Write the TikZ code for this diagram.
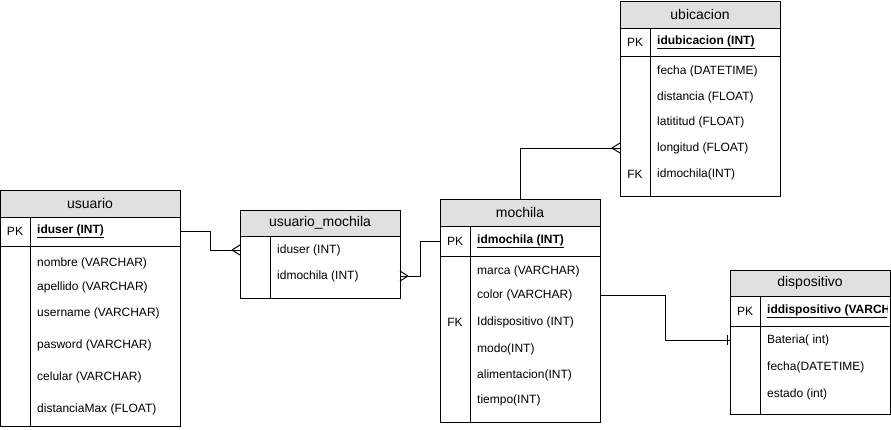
\documentclass[tikz,border=0pt]{standalone}
\usepackage{fontspec}
\setmainfont{Liberation Sans}
\definecolor{hdrgray}{RGB}{224,224,224}
\begin{document}
\begin{tikzpicture}[x=1pt,y=-1pt,
  tbl/.style={draw, line width=1pt, anchor=north west, inner sep=0pt, outer sep=0pt},
  hdr/.style={draw, line width=1pt, fill=hdrgray, anchor=north west, inner sep=0pt, outer sep=0pt, font=\fontsize{14}{16}\selectfont},
  row/.style={anchor=west, inner sep=0pt, font=\fontsize{12}{14}\selectfont},
  keycell/.style={anchor=center, inner sep=0pt, font=\fontsize{12}{14}\selectfont},
  sep/.style={line width=1pt},
  rel/.style={line width=1pt},
  pkrow/.style={row, font=\fontsize{12}{14}\selectfont\bfseries}
]
\useasboundingbox (0,0) rectangle (891,429);

% ---------- usuario ----------
\node[hdr, minimum width=180pt, minimum height=27pt] (usuarioH) at (0,190) {usuario};
\node[tbl, minimum width=180pt, minimum height=236pt] (usuario) at (0,190) {};
\draw[sep] (0,246) -- (180,246);
\draw[sep] (30,217) -- (30,426);
\node[keycell] (ukey) at (15,231) {PK};
\node[pkrow] (uiduser) at (37,231) {\underline{iduser (INT)}};
\node[row] (unombre) at (37,263) {nombre (VARCHAR)};
\node[row] (uapellido) at (37,287) {apellido (VARCHAR)};
\node[row] (uusername) at (37,313) {username (VARCHAR)};
\node[row] (upasword) at (37,345) {pasword (VARCHAR)};
\node[row] (ucelular) at (37,377) {celular (VARCHAR)};
\node[row] (udist) at (37,409) {distanciaMax (FLOAT)};

% ---------- usuario_mochila ----------
\node[hdr, minimum width=160pt, minimum height=26pt] (umH) at (240,210) {usuario\_mochila};
\node[tbl, minimum width=160pt, minimum height=88pt] (um) at (240,210) {};
\draw[sep] (270,236) -- (270,298);
\node[row] (umiduser) at (277,250) {iduser (INT)};
\node[row] (umidmochila) at (277,276) {idmochila (INT)};

% ---------- mochila ----------
\node[hdr, minimum width=160pt, minimum height=27pt] (mochilaH) at (440,199) {mochila};
\node[tbl, minimum width=160pt, minimum height=223pt] (mochila) at (440,199) {};
\draw[sep] (440,256) -- (600,256);
\draw[sep] (470,226) -- (470,422);
\node[keycell] (mkey) at (455,241) {PK};
\node[pkrow] (midmochila) at (477,241) {\underline{idmochila (INT)}};
\node[row] (mmarca) at (477,271) {marca (VARCHAR)};
\node[row] (mcolor) at (477,295) {color (VARCHAR)};
\node[keycell] (mfk) at (455,322) {FK};
\node[row] (mdisp) at (477,322) {Iddispositivo (INT)};
\node[row] (mmodo) at (477,349) {modo(INT)};
\node[row] (malim) at (477,375) {alimentacion(INT)};
\node[row] (mtiempo) at (477,400) {tiempo(INT)};

% ---------- ubicacion ----------
\node[hdr, minimum width=160pt, minimum height=27pt] (ubicacionH) at (620,1) {ubicacion};
\node[tbl, minimum width=160pt, minimum height=195pt] (ubicacion) at (620,1) {};
\draw[sep] (620,56) -- (780,56);
\draw[sep] (650,28) -- (650,196);
\node[keycell] (ukey2) at (635,42) {PK};
\node[pkrow] (uidub) at (657,42) {\underline{idubicacion (INT)}};
\node[row] (ufecha) at (657,71) {fecha (DATETIME)};
\node[row] (udistancia) at (657,97) {distancia (FLOAT)};
\node[row] (ulat) at (657,122) {latititud (FLOAT)};
\node[row] (ulongitud) at (657,148) {longitud (FLOAT)};
\node[keycell] (ufk) at (635,174) {FK};
\node[row] (uidmochila) at (657,174) {idmochila(INT)};

% ---------- dispositivo ----------
\node[hdr, minimum width=160pt, minimum height=26pt] (dispH) at (730,270) {dispositivo};
\node[tbl, minimum width=160pt, minimum height=144pt] (disp) at (730,270) {};
\draw[sep] (730,326) -- (890,326);
\draw[sep] (760,296) -- (760,414);
\node[keycell] (dkey) at (745,311) {PK};
\begin{scope}
  \clip (761,297) rectangle (887,325);
  \node[pkrow] (diddisp) at (767,311) {\underline{iddispositivo (VARCHAR)}};
\end{scope}
\node[row] (dbateria) at (767,340) {Bateria( int)};
\node[row] (dfecha) at (767,367) {fecha(DATETIME)};
\node[row] (destado) at (767,394) {estado (int)};

% ---------- connectors ----------
\draw[rel] (usuario.east |- ukey) -- ++(30,0) |- (um.west |- umiduser);
\draw[rel] (um.west |- umiduser) ++(-8,0) -- ++(8,-5)
           (um.west |- umiduser) ++(-8,0) -- ++(8,5);

\draw[rel] (um.east |- umidmochila) -- ++(20,0) |- (mochila.west |- mkey);
\draw[rel] (um.east |- umidmochila) ++(8,0) -- ++(-8,-5)
           (um.east |- umidmochila) ++(8,0) -- ++(-8,5);

\draw[rel] (mochila.north) |- (ubicacion.west |- ulongitud);
\draw[rel] (ubicacion.west |- ulongitud) ++(-8,0) -- ++(8,-5)
           (ubicacion.west |- ulongitud) ++(-8,0) -- ++(8,5);

\draw[rel] (mochila.east |- mcolor) -- ++(65,0) |- (disp.west |- dbateria);
\draw[rel] (disp.west |- dbateria) ++(-3,-5) -- ++(0,10);
\end{tikzpicture}
\end{document}
